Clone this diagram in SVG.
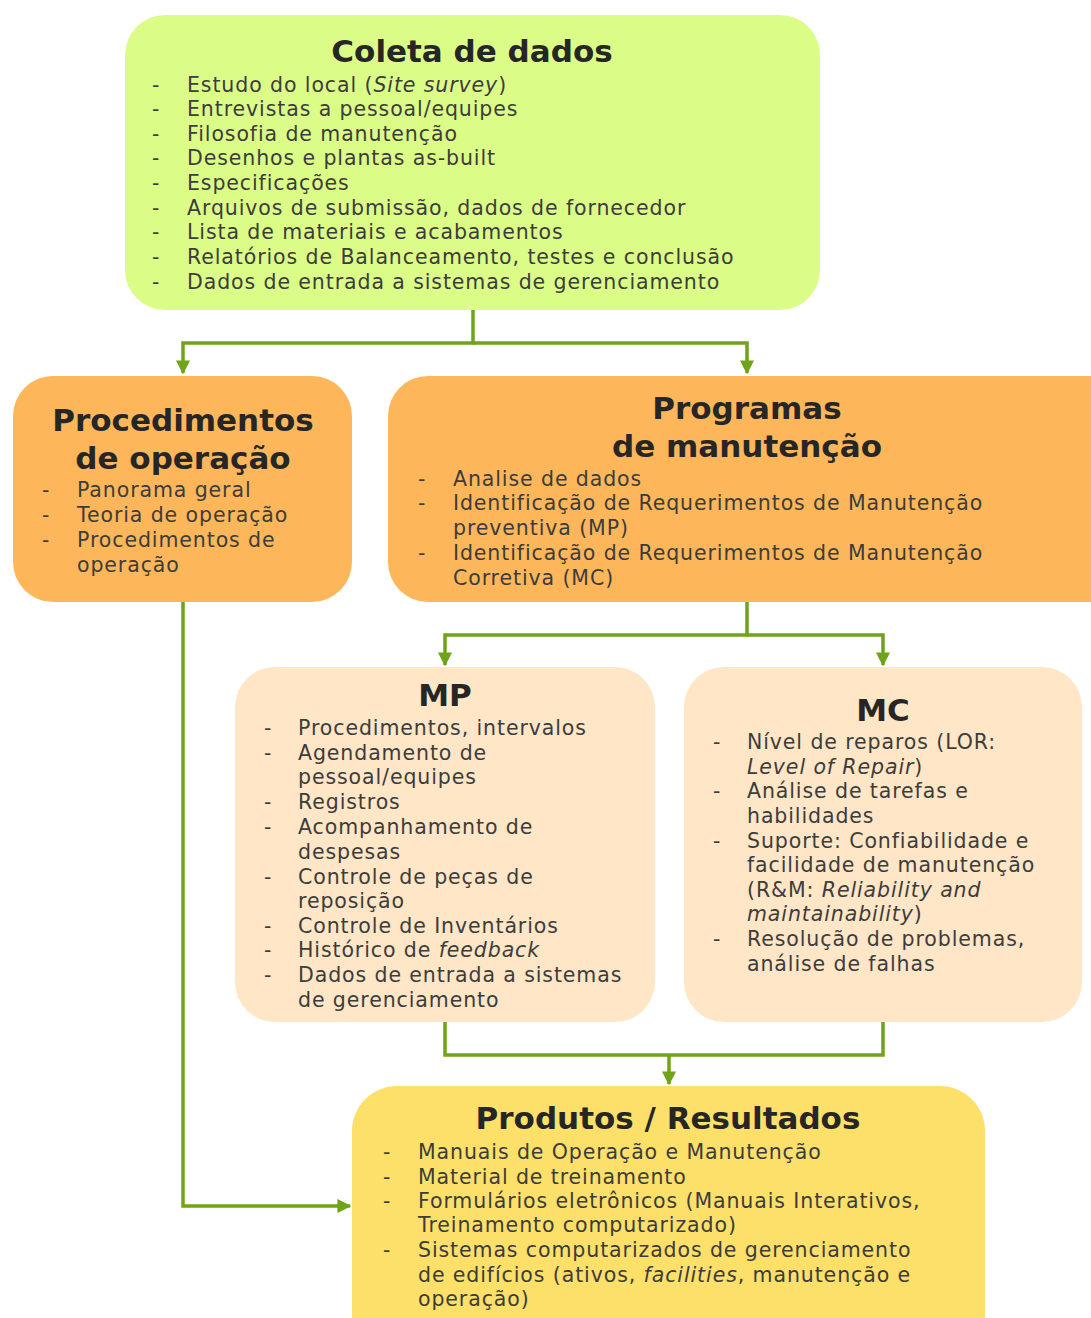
<svg xmlns="http://www.w3.org/2000/svg" width="1091" height="1318" viewBox="0 0 1091 1318">
<style>
.t{font-family:"DejaVu Sans","Liberation Sans",sans-serif;font-weight:bold;font-size:31px;fill:#262626;text-anchor:middle}
.b{font-family:"DejaVu Sans","Liberation Sans",sans-serif;font-size:20.5px;letter-spacing:0.9px;fill:#3c3c3c}
.i{font-style:italic}
.c{fill:none;stroke:#6FA31A;stroke-width:3.5}
</style>
<defs>
<marker id="ah" viewBox="0 0 10 10" refX="9" refY="5" markerWidth="4" markerHeight="4" orient="auto" markerUnits="strokeWidth">
<path d="M0,0 L10,5 L0,10 Z" fill="#6FA31A"/>
</marker>
</defs>
<rect width="1091" height="1318" fill="#fff"/>
<g id="connectors">
<path class="c" d="M473,310 V343 H183 V373" marker-end="url(#ah)"/>
<path class="c" d="M473,343 H747 V373" marker-end="url(#ah)"/>
<path class="c" d="M747,602 V635 H445 V665" marker-end="url(#ah)"/>
<path class="c" d="M747,635 H883 V665" marker-end="url(#ah)"/>
<path class="c" d="M445,1022 V1055 H883 V1022"/>
<path class="c" d="M669,1055 V1084" marker-end="url(#ah)"/>
<path class="c" d="M183,602 V1206 H350" marker-end="url(#ah)"/>
</g>
<g id="coleta">
<rect x="125" y="15" width="695" height="295" rx="40" fill="#DCFC88"/>
<text class="t" x="472" y="62">Coleta de dados</text>
<g class="b">
<text x="152" y="92">-</text><text x="187" y="92">Estudo do local (<tspan class="i">Site survey</tspan>)</text>
<text x="152" y="116">-</text><text x="187" y="116">Entrevistas a pessoal/equipes</text>
<text x="152" y="141">-</text><text x="187" y="141">Filosofia  de manutenção</text>
<text x="152" y="165">-</text><text x="187" y="165">Desenhos e plantas as-built</text>
<text x="152" y="190">-</text><text x="187" y="190">Especificações</text>
<text x="152" y="215">-</text><text x="187" y="215">Arquivos de submissão, dados de fornecedor</text>
<text x="152" y="239">-</text><text x="187" y="239">Lista de materiais e acabamentos</text>
<text x="152" y="264">-</text><text x="187" y="264">Relatórios de Balanceamento, testes e conclusão</text>
<text x="152" y="289">-</text><text x="187" y="289">Dados de entrada a sistemas de gerenciamento</text>
</g>
</g>
<g id="procedimentos">
<rect x="13" y="376" width="339" height="226" rx="40" fill="#FDB75A"/>
<text class="t" x="183" y="431">Procedimentos</text>
<text class="t" x="183" y="469">de operação</text>
<g class="b">
<text x="42" y="497">-</text><text x="77" y="497">Panorama geral</text>
<text x="42" y="522">-</text><text x="77" y="522">Teoria de operação</text>
<text x="42" y="547">-</text><text x="77" y="547">Procedimentos de</text>
<text x="77" y="572">operação</text>
</g>
</g>
<g id="programas">
<rect x="388" y="376" width="740" height="226" rx="40" fill="#FDB75A"/>
<text class="t" x="747" y="419">Programas</text>
<text class="t" x="747" y="457">de manutenção</text>
<g class="b">
<text x="418" y="486">-</text><text x="453" y="486">Analise de dados</text>
<text x="418" y="510">-</text><text x="453" y="510">Identificação de Requerimentos de Manutenção</text>
<text x="453" y="535">preventiva (MP)</text>
<text x="418" y="560">-</text><text x="453" y="560">Identificação de Requerimentos de Manutenção</text>
<text x="453" y="585">Corretiva (MC)</text>
</g>
</g>
<g id="mp">
<rect x="235" y="667" width="420" height="355" rx="40" fill="#FEE6C6"/>
<text class="t" x="445" y="706">MP</text>
<g class="b">
<text x="264" y="735">-</text><text x="298" y="735">Procedimentos, intervalos</text>
<text x="264" y="760">-</text><text x="298" y="760">Agendamento de</text>
<text x="298" y="784">pessoal/equipes</text>
<text x="264" y="809">-</text><text x="298" y="809">Registros</text>
<text x="264" y="834">-</text><text x="298" y="834">Acompanhamento de</text>
<text x="298" y="859">despesas</text>
<text x="264" y="884">-</text><text x="298" y="884">Controle de peças de</text>
<text x="298" y="908">reposição</text>
<text x="264" y="933">-</text><text x="298" y="933">Controle de Inventários</text>
<text x="264" y="957">-</text><text x="298" y="957">Histórico de <tspan class="i">feedback</tspan></text>
<text x="264" y="982">-</text><text x="298" y="982">Dados de entrada a sistemas</text>
<text x="298" y="1007">de gerenciamento</text>
</g>
</g>
<g id="mc">
<rect x="684" y="667" width="398" height="355" rx="40" fill="#FEE6C6"/>
<text class="t" x="883" y="721">MC</text>
<g class="b">
<text x="713" y="749">-</text><text x="747" y="749">Nível de reparos (LOR:</text>
<text x="747" y="774"><tspan class="i">Level of Repair</tspan>)</text>
<text x="713" y="798">-</text><text x="747" y="798">Análise de tarefas e</text>
<text x="747" y="823">habilidades</text>
<text x="713" y="848">-</text><text x="747" y="848">Suporte: Confiabilidade e</text>
<text x="747" y="872">facilidade de manutenção</text>
<text x="747" y="897">(R&amp;M: <tspan class="i">Reliability and</tspan></text>
<text x="747" y="921"><tspan class="i">maintainability</tspan>)</text>
<text x="713" y="946">-</text><text x="747" y="946">Resolução de problemas,</text>
<text x="747" y="971">análise de falhas</text>
</g>
</g>
<g id="produtos">
<rect x="352" y="1086" width="633" height="280" rx="45" fill="#FDE06A"/>
<text class="t" x="668" y="1129">Produtos / Resultados</text>
<g class="b">
<text x="383" y="1159">-</text><text x="418" y="1159">Manuais de Operação e Manutenção</text>
<text x="383" y="1184">-</text><text x="418" y="1184">Material de treinamento</text>
<text x="383" y="1208">-</text><text x="418" y="1208">Formulários eletrônicos (Manuais Interativos,</text>
<text x="418" y="1232">Treinamento computarizado)</text>
<text x="383" y="1257">-</text><text x="418" y="1257">Sistemas computarizados de gerenciamento</text>
<text x="418" y="1282">de edifícios (ativos, <tspan class="i">facilities</tspan>, manutenção e</text>
<text x="418" y="1306">operação)</text>
</g>
</g>
</svg>
